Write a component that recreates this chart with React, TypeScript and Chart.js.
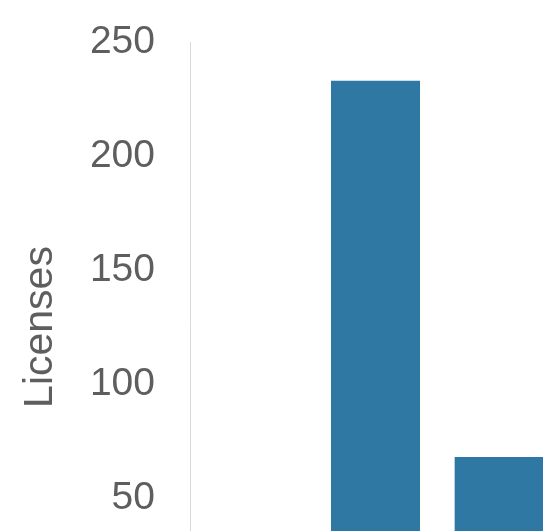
import React, { useEffect, useRef } from "react";
import { Chart, registerables } from "chart.js";

Chart.register(...registerables);

const categories = ["A", "B", "C"];
const licenses = [12, 233, 68];
const yTicks = [0, 50, 100, 150, 200, 250];
const axisTitle = "Licenses";

const W = 580;
const H = 640;

export default function App() {
  const ref = useRef<HTMLCanvasElement | null>(null);
  useEffect(() => {
    if (!ref.current) return;
    const chart = new Chart(ref.current, {
      type: "bar",
      data: {
        labels: categories,
        datasets: [
          {
            data: licenses,
            backgroundColor: "#2f78a4",
            borderWidth: 0,
          },
        ],
      },
      options: {
        animation: false,
        responsive: false,
        maintainAspectRatio: false,
        layout: { padding: { left: 12, top: 42, right: 19, bottom: 28 } },
        plugins: { legend: { display: false }, tooltip: { enabled: false } },
        scales: {
          x: {
            display: false,
          },
          y: {
            min: yTicks[0],
            max: yTicks[yTicks.length - 1],
            afterBuildTicks: (s: any) => {
              s.ticks = yTicks.map((v) => ({ value: v }));
            },
            afterFit: (s: any) => {
              s.width = 178;
            },
            grid: { display: false, drawTicks: true, tickLength: 32 },
            border: { display: true, color: "#d9d9d9", width: 1 },
            ticks: {
              padding: 3,
              color: "#5e5e5e",
              font: { family: "'Liberation Sans', Arial, sans-serif", size: 39 },
            },
            title: {
              display: true,
              text: axisTitle,
              color: "#5e5e5e",
              padding: { top: 4, bottom: 4 },
              font: { family: "'Liberation Sans', Arial, sans-serif", size: 41 },
            },
          },
        },
      },
    });
    return () => chart.destroy();
  }, []);
  return (
    <div style={{ position: "fixed", left: 0, top: 0, width: W, height: H, background: "#fff" }}>
      <canvas ref={ref} width={W} height={H} style={{ width: W, height: H }} />
    </div>
  );
}
